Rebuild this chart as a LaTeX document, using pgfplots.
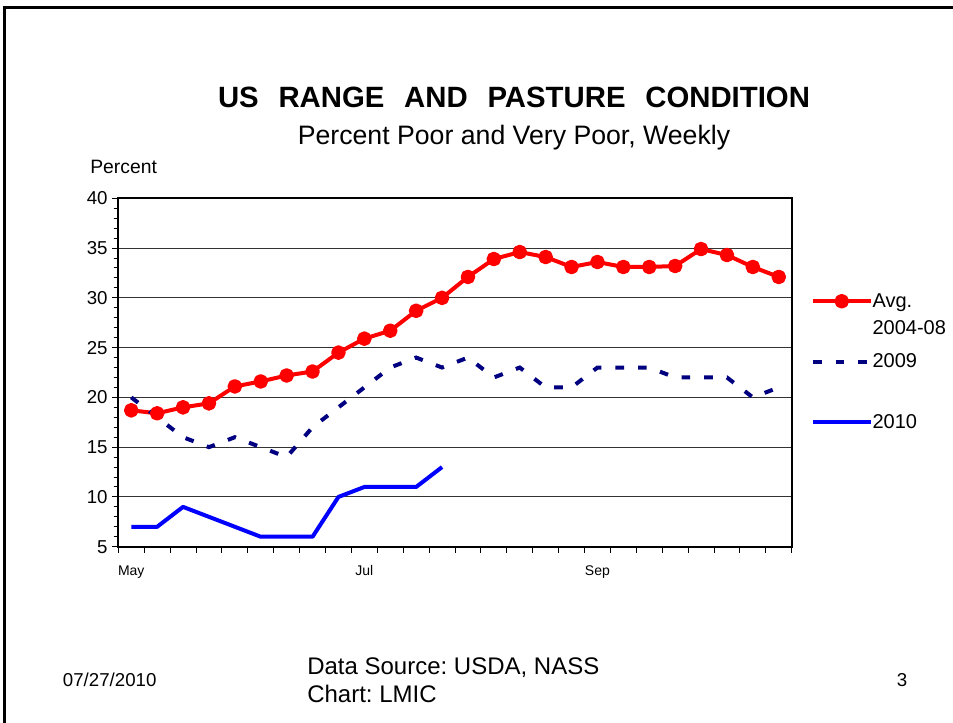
\documentclass[border=0pt]{standalone}
\usepackage{pgfplots}
\pgfplotsset{compat=1.18}
\usepackage{fontspec}
\setmainfont{Liberation Sans}
\frenchspacing
\definecolor{avgred}{HTML}{FF0000}
\definecolor{navy09}{HTML}{000080}
\definecolor{blue10}{HTML}{0000FF}
\newcommand{\LE}[1]{\raisebox{0pt}[10.8pt][0pt]{\begin{tabular}[t]{@{}l@{}}#1\end{tabular}}}
\begin{document}
\begin{tikzpicture}[x=0.75pt,y=0.75pt]
\useasboundingbox (0,0) rectangle (953,722);
\draw[line width=2.25pt] (4.3,-5) -- (4.3,714) -- (960,714);
\node[anchor=base, inner sep=0pt, font=\bfseries\fontsize{22}{26}\selectfont] at (514,{722-108}) {\makebox[444pt][s]{US RANGE AND PASTURE CONDITION}};
\node[anchor=base, inner sep=0pt, font=\fontsize{20}{24}\selectfont] at (514,{722-145}) {Percent Poor and Very Poor, Weekly};
\node[anchor=base west, inner sep=0pt, font=\fontsize{14.5}{17}\selectfont] at (90,{722-174}) {Percent};
\begin{axis}[
  at={(88.725pt,131.475pt)}, anchor=south west,
  scale only axis, width=505.05pt, height=261.3pt,
  xmin=-0.5, xmax=25.5, ymin=5, ymax=40,
  xtick={-0.5,0.5,1.5,2.5,3.5,4.5,5.5,6.5,7.5,8.5,9.5,10.5,11.5,12.5,13.5,14.5,15.5,16.5,17.5,18.5,19.5,20.5,21.5,22.5,23.5,24.5,25.5},
  xticklabels={},
  extra x ticks={0,9,18}, extra x tick labels={May,Jul,Sep},
  extra x tick style={major tick length=0pt, xticklabel style={yshift=-10.5pt}},
  xticklabel style={font=\fontsize{10.5}{12}\selectfont},
  ytick={5,10,...,40}, minor y tick num=4,
  yticklabel style={font=\fontsize{14}{16}\selectfont},
  /pgf/number format/assume math mode=true,
  tick align=outside, xtick pos=lower, ytick pos=left,
  major tick length=4.5pt, minor tick length=3.5pt,
  tick style={black, line width=0.75pt},
  ymajorgrids, major grid style={black!80, line width=0.75pt},
  axis line style={line width=1.5pt},
  clip=false,
  legend style={at={(1.0282,0.7288)}, anchor=north west, draw=none, fill=none, inner sep=0pt, row sep=33pt,
    font=\fontsize{15}{20.25}\selectfont, nodes={inner sep=0pt},
    /tikz/every even column/.append style={column sep=2.5pt}},
  legend cell align=left,
  legend image code/.code={\draw[mark repeat=2,mark phase=2,#1] plot coordinates {(0pt,0pt) (21.6pt,0pt) (43.2pt,0pt)};},
]
\addplot[color=avgred, line width=3pt, line join=round, mark=*, mark size=4pt, mark options={solid, fill=avgred}] coordinates {
(0,18.7) (1,18.4) (2,19.0) (3,19.4) (4,21.1) (5,21.6) (6,22.2) (7,22.6) (8,24.5) (9,25.9) (10,26.7) (11,28.7) (12,30.0)
(13,32.1) (14,33.9) (15,34.6) (16,34.1) (17,33.1) (18,33.6) (19,33.1) (20,33.1) (21,33.2) (22,34.9) (23,34.3) (24,33.1) (25,32.1)};
\addlegendentry{\LE{Avg.\\2004-08}}
\addplot[color=navy09, line width=3pt, dash pattern=on 6.5pt off 10.5pt] coordinates {
(0,20) (1,18) (2,16) (3,15) (4,16) (5,15) (6,14) (7,17) (8,19) (9,21) (10,23) (11,24) (12,23)
(13,24) (14,22) (15,23) (16,21) (17,21) (18,23) (19,23) (20,23) (21,22) (22,22) (23,22) (24,20) (25,21)};
\addlegendentry{\LE{2009}}
\addplot[color=blue10, line width=3pt, line join=round] coordinates {
(0,7) (1,7) (2,9) (3,8) (4,7) (5,6) (6,6) (7,6) (8,10) (9,11) (10,11) (11,11) (12,13)};
\addlegendentry{\LE{2010}}
\end{axis}
\node[anchor=base, inner sep=0pt, font=\fontsize{14}{16}\selectfont] at (109.7,{722-686}) {07/27/2010};
\node[anchor=base west, inner sep=0pt, font=\fontsize{18}{21}\selectfont] at (307,{722-674.6}) {Data Source: USDA, NASS};
\node[anchor=base west, inner sep=0pt, font=\fontsize{18}{21}\selectfont] at (307,{722-702.6}) {Chart: LMIC};
\node[anchor=base, inner sep=0pt, font=\fontsize{14}{16}\selectfont] at (902,{722-686.5}) {3};
\end{tikzpicture}
\end{document}
